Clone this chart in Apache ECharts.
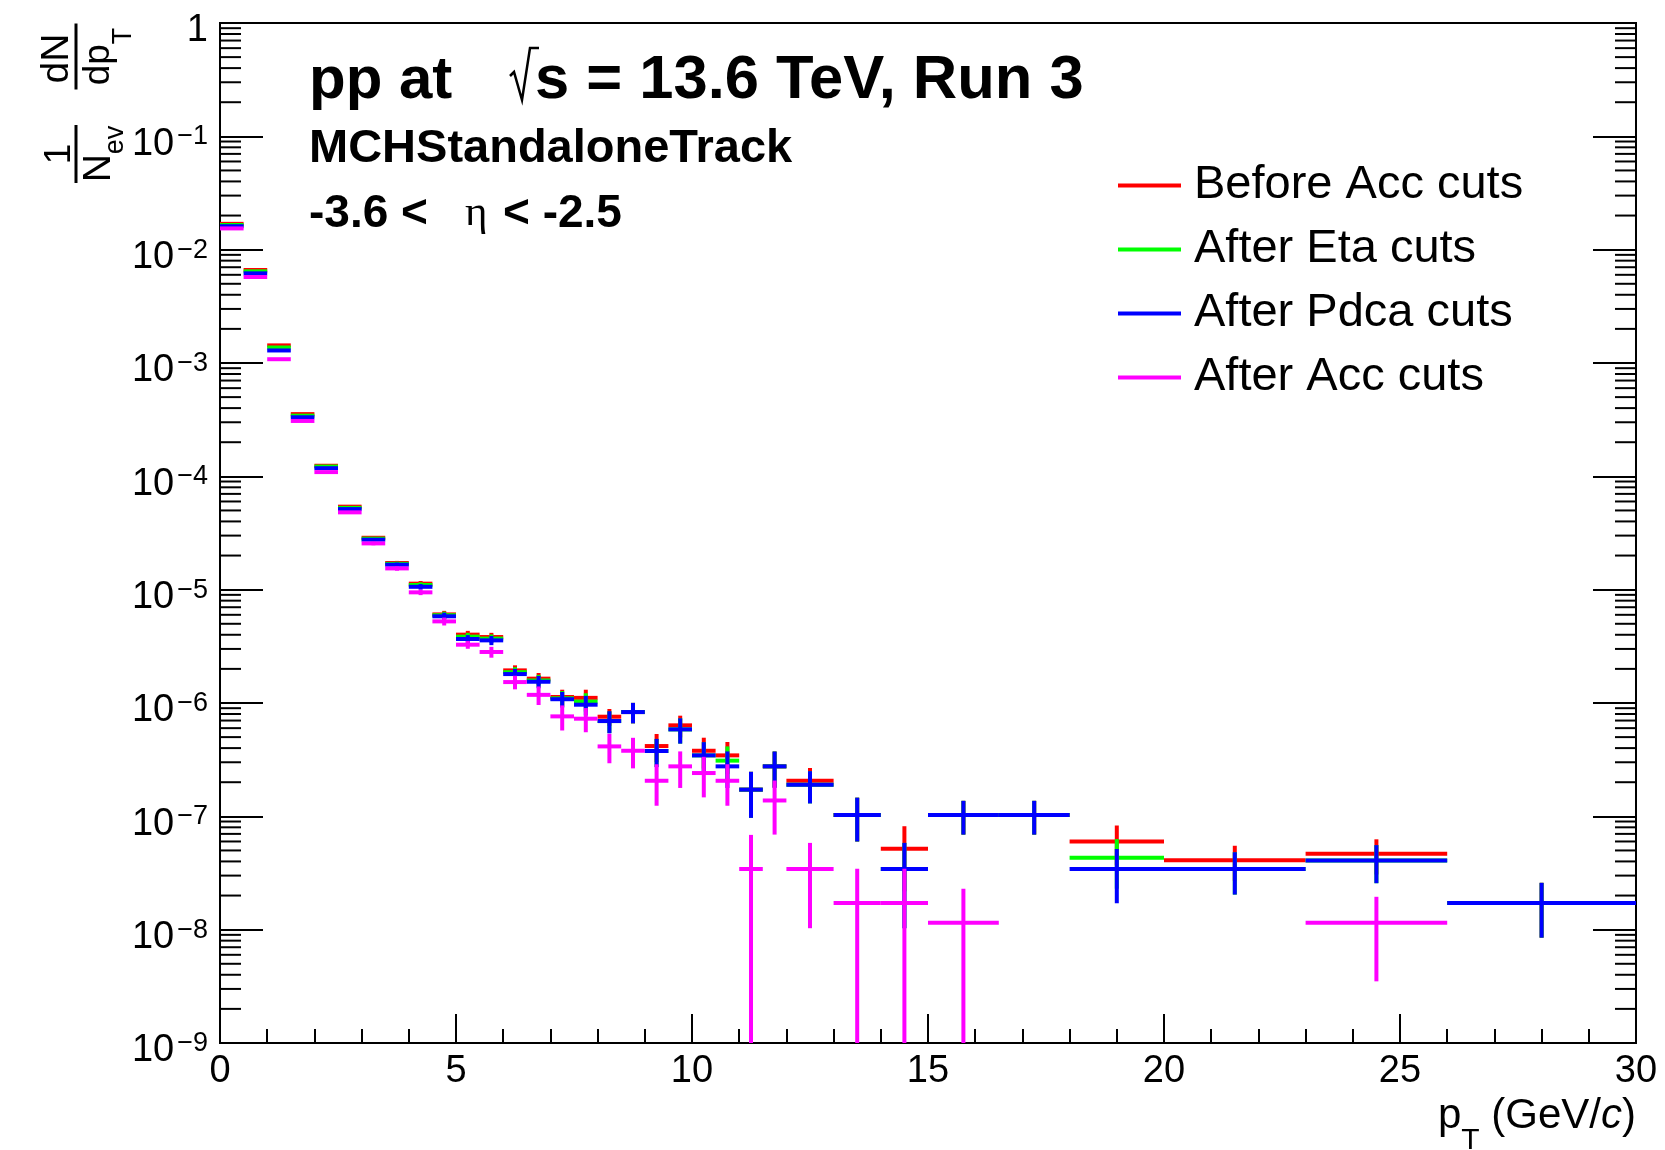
<!DOCTYPE html>
<html>
<head>
<meta charset="utf-8">
<title>MCH standalone track pT spectra</title>
<script src="https://cdn.jsdelivr.net/npm/echarts/dist/echarts.min.js"></script>
<style>
  html, body { margin: 0; padding: 0; background: #ffffff; }
  #chart { width: 1665px; height: 1150px; }
</style>
</head>
<body>
<div id="chart"></div>
<script>
// ---- data -------------------------------------------------------------
// pT bin edges (GeV/c): 33 bins
const binEdges = [0, 0.5, 1, 1.5, 2, 2.5, 3, 3.5, 4, 4.5, 5, 5.5, 6, 6.5, 7, 7.5, 8,
  8.5, 9, 9.5, 10, 10.5, 11, 11.5, 12, 13, 14, 15, 16.5, 18, 20, 23, 26, 30];

const seriesNames = ['Before Acc cuts', 'After Eta cuts', 'After Pdca cuts', 'After Acc cuts'];
const seriesColors = ['#ff0000', '#00ff00', '#0000ff', '#ff00ff'];

// 1/Nev dN/dpT per bin (null = empty bin)
const beforeAcc = [1.69e-2, 6.62e-3, 1.43e-3, 3.54e-4, 1.24e-4, 5.40e-5, 2.87e-5, 1.72e-5,
  1.13e-5, 6.05e-6, 4.01e-6, 3.82e-6, 1.94e-6, 1.64e-6, 1.13e-6, 1.11e-6, 7.57e-7, 8.32e-7,
  4.17e-7, 6.35e-7, 3.79e-7, 3.45e-7, 1.72e-7, 2.76e-7, 2.06e-7, 1.03e-7, 5.18e-8, 1.03e-7,
  1.03e-7, 6.0e-8, 4.1e-8, 4.67e-8, 1.72e-8];
const afterEta = [1.65e-2, 6.44e-3, 1.37e-3, 3.43e-4, 1.22e-4, 5.27e-5, 2.82e-5, 1.69e-5,
  1.10e-5, 5.95e-6, 3.85e-6, 3.70e-6, 1.87e-6, 1.58e-6, 1.10e-6, 1.03e-6, 6.93e-7, 8.32e-7,
  3.77e-7, 5.85e-7, 3.45e-7, 3.10e-7, 1.72e-7, 2.76e-7, 1.90e-7, 1.03e-7, 3.43e-8, 1.03e-7,
  1.03e-7, 4.3e-8, 3.43e-8, 4.07e-8, 1.72e-8];
const afterPdca = [1.61e-2, 6.18e-3, 1.29e-3, 3.32e-4, 1.18e-4, 5.14e-5, 2.76e-5, 1.66e-5,
  1.06e-5, 5.82e-6, 3.67e-6, 3.57e-6, 1.80e-6, 1.54e-6, 1.08e-6, 9.66e-7, 6.93e-7, 8.32e-7,
  3.77e-7, 5.85e-7, 3.45e-7, 2.76e-7, 1.72e-7, 2.76e-7, 1.90e-7, 1.03e-7, 3.43e-8, 1.03e-7,
  1.03e-7, 3.43e-8, 3.43e-8, 4.07e-8, 1.72e-8];
const afterAcc = [1.54e-2, 5.74e-3, 1.08e-3, 3.08e-4, 1.09e-4, 4.81e-5, 2.56e-5, 1.54e-5,
  9.47e-6, 5.25e-6, 3.27e-6, 2.82e-6, 1.53e-6, 1.18e-6, 7.62e-7, 7.27e-7, 4.14e-7, 3.79e-7,
  2.06e-7, 2.76e-7, 2.41e-7, 2.06e-7, 3.43e-8, 1.38e-7, 3.43e-8, 1.72e-8, 1.72e-8, 1.15e-8,
  null, null, null, 1.15e-8, null];

// statistical uncertainties (symmetric)
const beforeAccErr = [5e-5, 2.6e-5, 8.6e-6, 3.9e-6, 2.2e-6, 1.4e-6, 9.8e-7, 7.4e-7,
  6.2e-7, 4.5e-7, 3.2e-7, 3.4e-7, 2.1e-7, 2.0e-7, 1.8e-7, 2.0e-7, 1.28e-7, 1.7e-7,
  1.16e-7, 1.38e-7, 1.15e-7, 1.08e-7, 7.5e-8, 9.7e-8, 6.1e-8, 4.3e-8, 3.0e-8, 3.4e-8,
  3.4e-8, 2.3e-8, 1.4e-8, 1.6e-8, 8.7e-9];
const afterEtaErr = [5e-5, 2.5e-5, 8.4e-6, 3.8e-6, 2.2e-6, 1.4e-6, 9.6e-7, 7.3e-7,
  6.1e-7, 4.4e-7, 3.1e-7, 3.3e-7, 2.0e-7, 1.9e-7, 1.75e-7, 1.9e-7, 1.5e-7, 1.7e-7,
  1.05e-7, 1.47e-7, 1.06e-7, 1.04e-7, 7.5e-8, 9.7e-8, 6.0e-8, 4.3e-8, 2.4e-8, 3.4e-8,
  3.4e-8, 2.0e-8, 1.39e-8, 1.5e-8, 8.7e-9];
const afterPdcaErr = [5e-5, 2.4e-5, 8.2e-6, 3.7e-6, 2.1e-6, 1.35e-6, 9.5e-7, 7.2e-7,
  6.0e-7, 4.4e-7, 3.0e-7, 3.3e-7, 2.0e-7, 1.9e-7, 1.7e-7, 1.9e-7, 1.53e-7, 1.7e-7,
  1.05e-7, 1.47e-7, 1.06e-7, 9.8e-8, 7.5e-8, 9.7e-8, 6.0e-8, 4.3e-8, 2.4e-8, 3.4e-8,
  3.4e-8, 1.72e-8, 1.39e-8, 1.5e-8, 8.7e-9];
const afterAccErr = [5e-5, 2.4e-5, 7.6e-6, 3.6e-6, 2.1e-6, 1.35e-6, 9.5e-7, 7.0e-7,
  5.2e-7, 4.2e-7, 2.6e-7, 3.1e-7, 2.1e-7, 2.2e-7, 1.9e-7, 1.75e-7, 1.2e-7, 1.14e-7,
  8.2e-8, 9.8e-8, 9.4e-8, 8.2e-8, 3.43e-8, 6.9e-8, 2.4e-8, 1.72e-8, 1.72e-8, 1.15e-8,
  null, null, null, 8.0e-9, null];

// axis ranges and tick positions
const xRange = [0, 30];
const xMajorStep = 5;
const yRange = [1e-9, 1];
const yDecades = [-9, -8, -7, -6, -5, -4, -3, -2, -1];
const yMinorMantissas = [2, 3, 4, 5, 6, 7, 8, 9];

// ---- helpers ----------------------------------------------------------
const FONT = '"Liberation Sans", Arial, Helvetica, sans-serif';

function binData(values, errors) {
  const out = [];
  for (let i = 0; i < values.length; i++) {
    if (values[i] == null) continue;
    out.push([binEdges[i], binEdges[i + 1], values[i], errors[i]]);
  }
  return out;
}

// histogram bin drawn as horizontal bin-width bar plus vertical error bar
function renderBin(params, api) {
  const lo = api.value(0), hi = api.value(1), v = api.value(2), e = api.value(3);
  if (!(v > 0)) return null;
  const mid = (lo + hi) / 2;
  const pL = api.coord([lo, v]);
  const pR = api.coord([hi, v]);
  const pT = api.coord([mid, v + e]);
  const pB = api.coord([mid, Math.max(v - e, yRange[0])]);
  const style = { stroke: api.visual('color'), lineWidth: 4, lineCap: 'butt' };
  return {
    type: 'group',
    children: [
      { type: 'line', shape: { x1: pL[0], y1: pL[1], x2: pR[0], y2: pR[1] }, style: style },
      { type: 'line', shape: { x1: pT[0], y1: pT[1], x2: pB[0], y2: pB[1] }, style: style }
    ]
  };
}

// logarithmic minor ticks on both vertical frame edges
const yMinorTicks = [];
yDecades.forEach(function (d) {
  yMinorMantissas.forEach(function (m) { yMinorTicks.push([xRange[0], m * Math.pow(10, d)]); });
});
function renderMinorTick(params, api) {
  const v = api.value(1);
  const l = api.coord([xRange[0], v]);
  const r = api.coord([xRange[1], v]);
  const st = { stroke: '#000', lineWidth: 2 };
  return {
    type: 'group',
    children: [
      { type: 'line', shape: { x1: l[0], y1: l[1], x2: l[0] + 21, y2: l[1] }, style: st },
      { type: 'line', shape: { x1: r[0] - 21, y1: r[1], x2: r[0], y2: r[1] }, style: st }
    ]
  };
}

function powerLabel(v) {
  const e = Math.round(Math.log10(v));
  if (e === 0) return '{b|1}';
  return '{b|10}{s|\u2212' + (-e) + '}';
}

const yLabelRich = {
  b: { fontSize: 38, fontFamily: FONT, color: '#000', verticalAlign: 'top', padding: [16, 0, 0, 0] },
  s: { fontSize: 27, fontFamily: FONT, color: '#000', verticalAlign: 'top', padding: [14, 0, 0, 3] }
};

function yAxisDef(side) {
  return {
    type: 'log',
    logBase: 10,
    position: side,
    min: yRange[0],
    max: yRange[1],
    splitNumber: 9,
    axisLine: { show: true, lineStyle: { color: '#000', width: 2 } },
    axisTick: { show: true, inside: true, length: 43, lineStyle: { color: '#000', width: 2 } },
    splitLine: { show: false },
    minorTick: { show: false },
    axisLabel: side === 'left' ? {
      show: true, margin: 12, formatter: powerLabel, rich: yLabelRich,
      showMinLabel: true, showMaxLabel: true
    } : { show: false }
  };
}

const dataSeries = [
  [beforeAcc, beforeAccErr],
  [afterEta, afterEtaErr],
  [afterPdca, afterPdcaErr],
  [afterAcc, afterAccErr]
].map(function (pair, i) {
  return {
    type: 'custom',
    name: seriesNames[i],
    renderItem: renderBin,
    data: binData(pair[0], pair[1]),
    encode: { x: [0, 1], y: 2 },
    itemStyle: { color: seriesColors[i] },
    clip: true,
    silent: true,
    z: 10 + i
  };
});

const plainText = function (x, y, text, size, bold, family, align) {
  return {
    type: 'text', x: x, y: y,
    style: {
      text: text, fontSize: size, fontWeight: bold ? 'bold' : 'normal',
      fontFamily: family || FONT, fill: '#000',
      align: align || 'left', textAlign: align || 'left',
      verticalAlign: 'middle', textVerticalAlign: 'middle'
    }
  };
};

// ---- chart ------------------------------------------------------------
const chart = echarts.init(document.getElementById('chart'), null, { renderer: 'canvas' });

const option = {
  backgroundColor: '#ffffff',
  animation: false,
  textStyle: { fontFamily: FONT },
  grid: {
    left: 220, right: 29, top: 23, bottom: 107,
    show: true, borderColor: '#000', borderWidth: 2, backgroundColor: 'transparent',
    containLabel: false, outerBoundsMode: 'none'
  },
  xAxis: {
    type: 'value',
    min: xRange[0], max: xRange[1], interval: xMajorStep,
    axisLine: { show: true, lineStyle: { color: '#000', width: 2 } },
    axisTick: { show: true, inside: true, length: 29, lineStyle: { color: '#000', width: 2 } },
    minorTick: { show: true, splitNumber: 5, length: 14, lineStyle: { color: '#000', width: 2 } },
    splitLine: { show: false },
    minorSplitLine: { show: false },
    axisLabel: {
      color: '#000', fontSize: 38, fontFamily: FONT, margin: 10,
      showMinLabel: true, showMaxLabel: true
    }
  },
  yAxis: [yAxisDef('left'), yAxisDef('right')],
  legend: {
    orient: 'vertical',
    left: 1113, top: 157,
    padding: 5,
    itemWidth: 63, itemHeight: 4, itemGap: 17,
    icon: 'rect',
    selectedMode: false,
    data: seriesNames,
    textStyle: { color: '#000', fontSize: 47, lineHeight: 47, fontFamily: FONT, padding: [0, 0, 0, 8] }
  },
  series: [{
    type: 'custom',
    renderItem: renderMinorTick,
    data: yMinorTicks,
    encode: { x: 0, y: 1 },
    clip: false,
    silent: true,
    z: 5
  }].concat(dataSeries),
  graphic: [
    // headline
    plainText(309, 81.5, 'pp at', 60, true),
    { type: 'polyline', shape: { points: [[510, 76], [514, 72], [522, 100], [530, 48], [539, 48]] }, style: { stroke: '#000', lineWidth: 2.5, fill: null } },
    plainText(535, 81.5, 's = 13.6 TeV, Run 3', 61.5, true),
    plainText(309, 149, 'MCHStandaloneTrack', 47, true),
    plainText(309, 214, '-3.6 <', 46, true),
    plainText(465, 214, '\u03b7', 43, false, '"Liberation Serif", "DejaVu Serif", serif'),
    plainText(503, 214, '< -2.5', 46, true),

    // x-axis title
    { type: 'text', x: 1636, y: 1095, style: {
      text: '{n|p}{t|T}{n| (GeV/}{i|c}{n|)}',
      align: 'right', textAlign: 'right', verticalAlign: 'top', textVerticalAlign: 'top',
      rich: {
        n: { fontSize: 42, fontFamily: FONT, fill: '#000', verticalAlign: 'top' },
        t: { fontSize: 30, fontFamily: FONT, fill: '#000', verticalAlign: 'top', padding: [31, 0, 0, 0] },
        i: { fontSize: 42, fontFamily: FONT, fontStyle: 'italic', fill: '#000', verticalAlign: 'top' }
      }
    } },

    // y-axis title: (1/N_ev) (dN/dp_T), rotated
    { type: 'group', x: 76, y: 56.5, rotation: Math.PI / 2, children: [
      { type: 'line', shape: { x1: -33, y1: 0, x2: 33, y2: 0 }, style: { stroke: '#000', lineWidth: 3 } },
      plainText(-2, -19, 'dN', 39, false, FONT, 'center'),
      { type: 'text', x: 0, y: 4.5, style: {
        text: '{m|dp}{t|T}',
        align: 'center', textAlign: 'center', verticalAlign: 'top', textVerticalAlign: 'top',
        rich: {
          m: { fontSize: 37, fontFamily: FONT, fill: '#000', verticalAlign: 'top' },
          t: { fontSize: 27, fontFamily: FONT, fill: '#000', verticalAlign: 'top', padding: [30, 0, 0, 0] }
        }
      } }
    ] },
    { type: 'group', x: 76, y: 154, rotation: Math.PI / 2, children: [
      { type: 'line', shape: { x1: -29, y1: 0, x2: 29, y2: 0 }, style: { stroke: '#000', lineWidth: 3 } },
      plainText(0, -16.5, '1', 37, false, FONT, 'center'),
      { type: 'text', x: 0, y: 4, style: {
        text: '{m|N}{t|ev}',
        align: 'center', textAlign: 'center', verticalAlign: 'top', textVerticalAlign: 'top',
        rich: {
          m: { fontSize: 39, fontFamily: FONT, fill: '#000', verticalAlign: 'top' },
          t: { fontSize: 27, fontFamily: FONT, fill: '#000', verticalAlign: 'top', padding: [22, 0, 0, 0] }
        }
      } }
    ] }
  ]
};

chart.setOption(option);
</script>
</body>
</html>
